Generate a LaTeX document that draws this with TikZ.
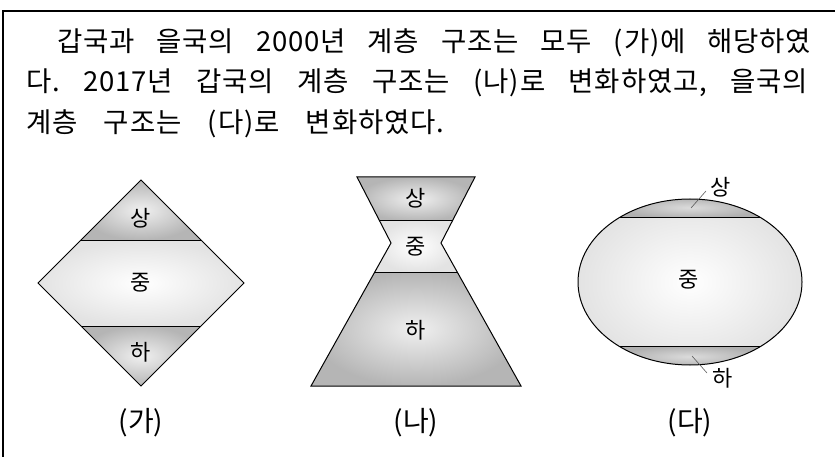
\documentclass[tikz,border=0pt]{standalone}
\usepackage{fontspec}
\setmainfont{Noto Sans CJK KR}
\newfontfamily\bodyfont{Noto Sans CJK KR}[LetterSpace=3]
\frenchspacing
\begin{document}
\begin{tikzpicture}[x=1pt,y=-1pt,
  txt/.style={inner sep=0pt, anchor=base west, font=\bodyfont\fontsize{27.5}{30}\selectfont},
  lbl/.style={inner sep=0pt, font=\fontsize{22}{26}\selectfont},
  capt/.style={inner sep=0pt, font=\fontsize{28}{32}\selectfont},
  edge/.style={draw=black, line width=1pt, line join=miter},
  lead/.style={draw=gray!70!black, line width=0.6pt},
  dark/.style={inner color=gray!12, outer color=gray!58},
  capshade/.style={inner color=gray!28, outer color=gray!62},
  light/.style={inner color=white, outer color=gray!22}]
\useasboundingbox (0,0) rectangle (835,457);
% frame
\draw[line width=1.3pt] (3,457) -- (3,11) -- (835,11);
% text
\node[txt] (t1) at (57,52) {\makebox[754pt][s]{\frenchspacing 갑국과 을국의 2000년 계층 구조는 모두 (가)에 해당하였}};
\node[txt] (t2) at (26,92) {\makebox[782pt][s]{\frenchspacing 다. 2017년 갑국의 계층 구조는 (나)로 변화하였고, 을국의}};
\node[txt] (t3) at (26,133) {\makebox[418pt][s]{\frenchspacing 계층 구조는 (다)로 변화하였다.}};
% (가) diamond
\shade[dark] (141,180) -- (201,240) -- (81,240) -- cycle;
\shade[light] (81,240) -- (201,240) -- (244,283) -- (201,326) -- (81,326) -- (38,283) -- cycle;
\shade[dark] (81,326) -- (201,326) -- (141,386) -- cycle;
\draw[edge] (141,180) -- (244,283) -- (141,386) -- (38,283) -- cycle;
\draw[edge] (81,240) -- (201,240);
\draw[edge] (81,326) -- (201,326);
\node[lbl] (a1) at (141,218) {상};
\node[lbl] (a2) at (141,283) {중};
\node[lbl] (a3) at (141,352) {하};
\node[capt] (ca) at (141,423) {(가)};
% (나) hourglass
\shade[dark] (357,177) -- (475,177) -- (452.3,221) -- (379.7,221) -- cycle;
\shade[light] (379.7,221) -- (452.3,221) -- (441,243) -- (457.2,272) -- (374.8,272) -- (391,243) -- cycle;
\shade[dark] (374.8,272) -- (457.2,272) -- (521,386) -- (311,386) -- cycle;
\draw[edge] (357,177) -- (475,177) -- (441,243) -- (521,386) -- (311,386) -- (391,243) -- cycle;
\draw[edge] (379.7,221) -- (452.3,221);
\draw[edge] (374.8,272) -- (457.2,272);
\node[lbl] (b1) at (416,198) {상};
\node[lbl] (b2) at (416,247) {중};
\node[lbl] (b3) at (416,330) {하};
\node[capt] (cb) at (416,423) {(나)};
% (다) ellipse
\shade[light] (690,282) ellipse [x radius=112pt, y radius=83pt];
\begin{scope}
  \clip (690,282) ellipse [x radius=112pt, y radius=83pt];
  \shade[capshade] (619,197) rectangle (761,218);
  \shade[capshade] (619,346) rectangle (761,367);
\end{scope}
\draw[edge] (690,282) ellipse [x radius=112pt, y radius=83pt];
\draw[edge] (619,218) -- (761,218);
\draw[edge] (619,346) -- (761,346);
\node[lbl] (c2) at (689,280) {중};
\node[lbl] (c1) at (721,187) {상};
\node[lbl] (c3) at (723,378) {하};
\coordinate (c1a) at (706,191);
\coordinate (c1b) at (691,208);
\coordinate (c3a) at (692,356);
\coordinate (c3b) at (707,373);
\draw[lead] (c1a) -- (c1b);
\draw[lead] (c3a) -- (c3b);
\node[capt] (cc) at (690,423) {(다)};
\end{tikzpicture}
\end{document}
